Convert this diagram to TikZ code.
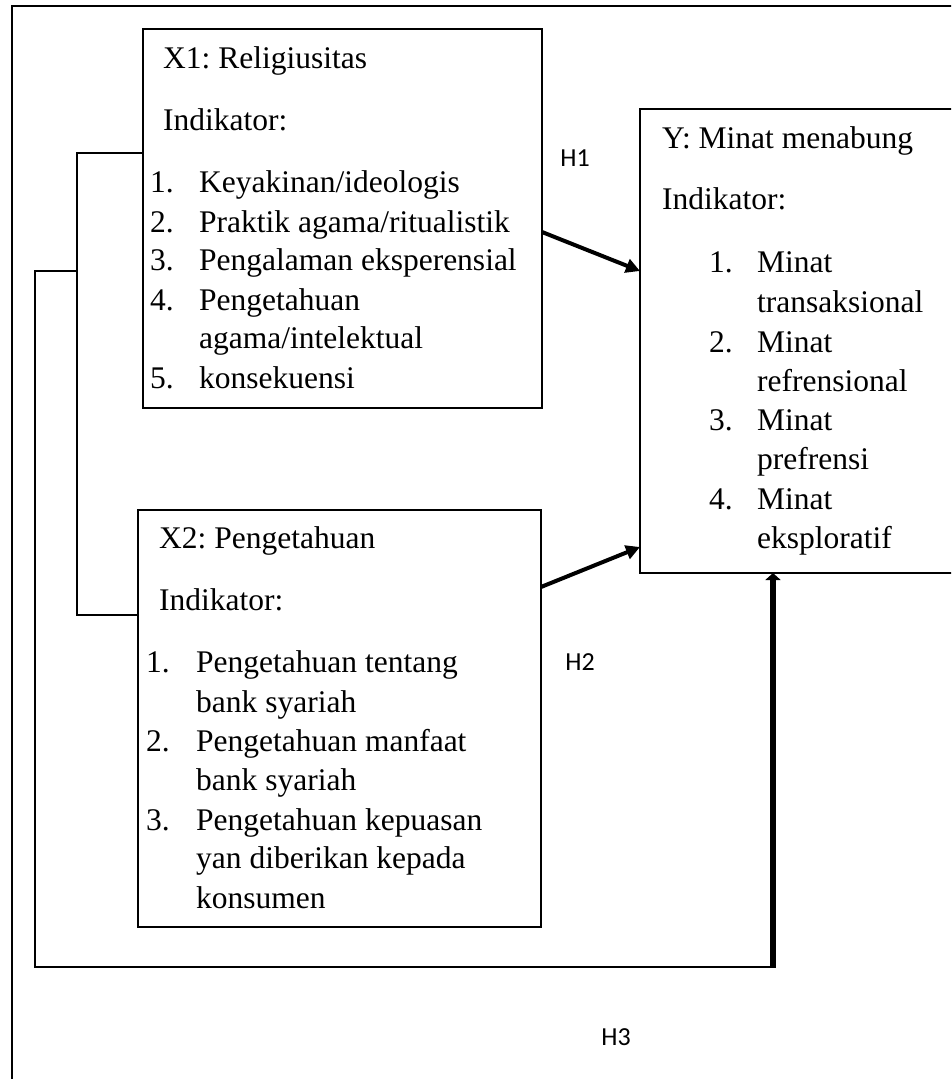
\documentclass[tikz,border=0pt]{standalone}
\usepackage{fontspec}
\setmainfont{Liberation Serif}
\newfontfamily\labfont{Carlito}
\usetikzlibrary{arrows.meta}
\frenchspacing
\begin{document}
\begin{tikzpicture}[x=1pt,y=-1pt,
  box/.style={draw, line width=2.6pt, inner sep=0pt, outer sep=0pt},
  txt/.style={anchor=base west, inner sep=0pt, font=\fontsize{31.5}{36}\selectfont},
  hlab/.style={anchor=base, inner sep=0pt, font=\labfont\fontsize{26}{30}\selectfont},
  conn/.style={line width=2.6pt},
  arr/.style={line width=4pt, -{Triangle[length=14pt,width=14pt]}},
  bigarr/.style={line width=6.5pt, -{Triangle[length=7pt,width=15pt]}}
]
\useasboundingbox (0,0) rectangle (951,1079);
\clip (0,0) rectangle (951,1079);
% outer frame
\draw[line width=2.6pt] (12,1100) rectangle (990,6);

% boxes
\node[box, minimum width=399pt, minimum height=379pt] (x1) at (342.5,218.5) {};
\node[box, minimum width=403pt, minimum height=417pt] (x2) at (339.5,718.5) {};
\node[box, minimum width=316pt, minimum height=464pt] (y) at (798,341) {};

% X1 text
\node[txt] (x1t) at (163,68) {X1: Religiusitas};
\node[txt] (x1ind) at (163,130) {Indikator:};
\node[txt] (x1n1) at (150,192) {1.};
\node[txt] (x1i1) at (199,192) {Keyakinan/ideologis};
\node[txt] (x1n2) at (150,232) {2.};
\node[txt] (x1i2) at (199,232) {Praktik agama/ritualistik};
\node[txt] (x1n3) at (150,270) {3.};
\node[txt] (x1i3) at (199,270) {Pengalaman eksperensial};
\node[txt] (x1n4) at (150,310) {4.};
\node[txt] (x1i4) at (199,310) {Pengetahuan};
\node[txt] (x1i4b) at (199,348) {agama/intelektual};
\node[txt] (x1n5) at (150,388) {5.};
\node[txt] (x1i5) at (199,388) {konsekuensi};

% X2 text
\node[txt] (x2t) at (159,548) {X2: Pengetahuan};
\node[txt] (x2ind) at (159,610) {Indikator:};
\node[txt] (x2n1) at (146,672) {1.};
\node[txt] (x2i1) at (196,672) {Pengetahuan tentang};
\node[txt] (x2i1b) at (196,712) {bank syariah};
\node[txt] (x2n2) at (146,751) {2.};
\node[txt] (x2i2) at (196,751) {Pengetahuan manfaat};
\node[txt] (x2i2b) at (196,790) {bank syariah};
\node[txt] (x2n3) at (146,830) {3.};
\node[txt] (x2i3) at (196,830) {Pengetahuan kepuasan};
\node[txt] (x2i3b) at (196,868) {yan diberikan kepada};
\node[txt] (x2i3c) at (196,908) {konsumen};

% Y text
\node[txt] (yt) at (662,148) {Y: Minat menabung};
\node[txt] (yind) at (662,209) {Indikator:};
\node[txt] (yn1) at (709,272) {1.};
\node[txt] (yi1) at (757,272) {Minat};
\node[txt] (yi1b) at (757,312) {transaksional};
\node[txt] (yn2) at (709,352) {2.};
\node[txt] (yi2) at (757,352) {Minat};
\node[txt] (yi2b) at (757,391) {refrensional};
\node[txt] (yn3) at (709,430) {3.};
\node[txt] (yi3) at (757,430) {Minat};
\node[txt] (yi3b) at (757,469) {prefrensi};
\node[txt] (yn4) at (709,509) {4.};
\node[txt] (yi4) at (757,509) {Minat};
\node[txt] (yi4b) at (757,548) {eksploratif};

% hypothesis labels
\node[hlab] (h1) at (575,166) {H1};
\node[hlab] (h2) at (580,670) {H2};
\node[hlab] (h3) at (616,1045) {H3};

% correlation bracket between X1 and X2
\draw[conn] ([yshift=65.5pt]x1.west) -- ++(-66,0) |- ([yshift=103.5pt]x2.west);
\coordinate (j) at (77,271);
\coordinate (c) at (773,967);
\draw[line width=2.8pt] (j) -- (35,271) -- (35,967) -- ([xshift=3pt]c);
\draw[bigarr] (c) -- ([xshift=-25pt]y.south);

% arrows H1, H2
\draw[arr] ([yshift=-13.5pt]x1.east) -- ([yshift=70pt]y.west);
\draw[arr] ([yshift=131.5pt]x2.east) -- ([yshift=-206pt]y.west);
\end{tikzpicture}
\end{document}
